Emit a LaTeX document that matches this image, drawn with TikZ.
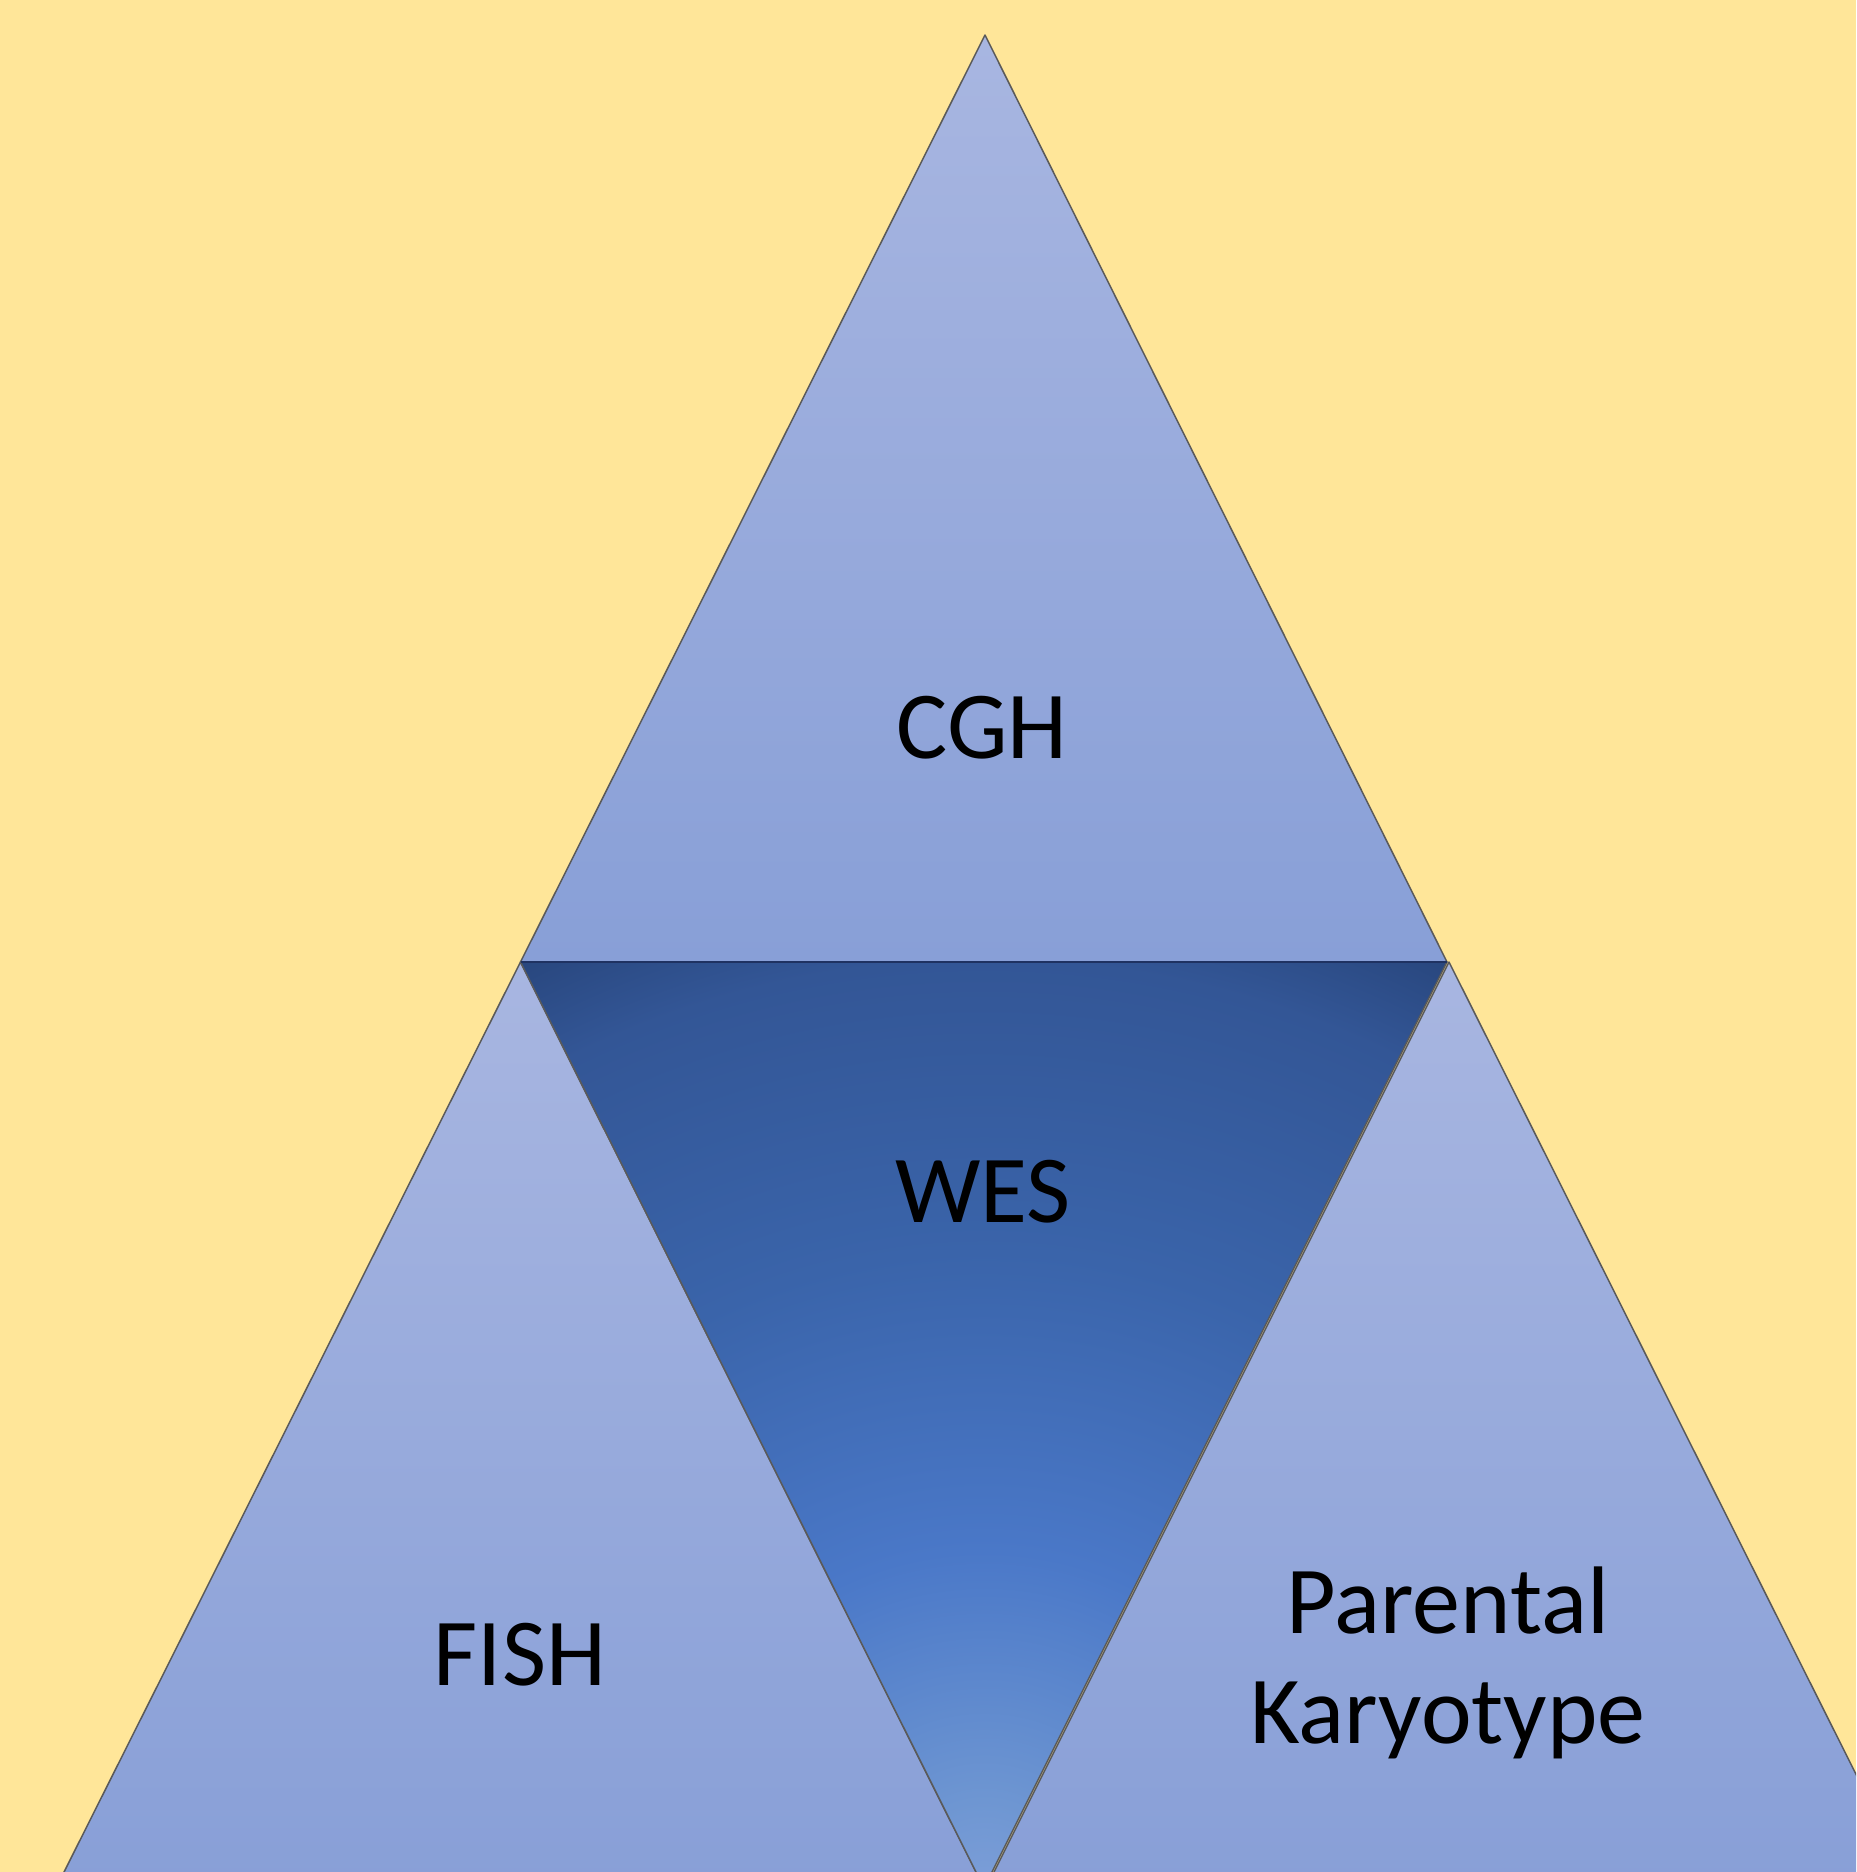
\documentclass[tikz,border=0pt]{standalone}
\usepackage{fontspec}
\setmainfont{Carlito}
\definecolor{bg}{HTML}{FFE699}
\definecolor{lighttop}{RGB}{168,182,225}
\definecolor{lightbot}{RGB}{136,159,215}
\definecolor{edge}{HTML}{5A5A5A}
\definecolor{wesA}{RGB}{124,158,216}
\definecolor{wesB}{RGB}{110,150,210}
\definecolor{wesC}{RGB}{74,120,200}
\definecolor{wesD}{RGB}{58,100,170}
\definecolor{wesE}{RGB}{51,86,150}
\definecolor{wesF}{RGB}{40,70,125}
\definecolor{wesline}{HTML}{1F3262}
\pgfdeclareradialshading{wesrad}{\pgfpoint{0bp}{0bp}}{color(0bp)=(wesA); color(2.1bp)=(wesB); color(8.1bp)=(wesC); color(15.3bp)=(wesD); color(22.3bp)=(wesE); color(25bp)=(wesF); color(50bp)=(wesF)}
\tikzset{
  lighttri/.style={top color=lighttop, bottom color=lightbot, draw=edge, line width=1.5pt, line join=round},
  tri/.style={draw=edge, line width=1.5pt, line join=round},
  lbl/.style={font=\fontsize{96}{110}\selectfont, text=black, inner sep=0pt, anchor=base}
}
\begin{document}
\begin{tikzpicture}[x=1pt,y=-1pt]
\useasboundingbox (0,0) rectangle (1856,1872);
\fill[bg] (0,0) rectangle (1856,1872);
\clip (0,0) rectangle (1856,1872);
\coordinate (top) at (985,35);
\coordinate (L) at (520.5,962);
\coordinate (R) at (1447,962);
\coordinate (Rp) at (1449,962);
\coordinate (BL) at (56,1888);
\coordinate (BM) at (984,1888);
\coordinate (BMp) at (986,1888);
\coordinate (BR) at (1913,1888);
% lower triangles
\path[lighttri] (L) -- (BL) -- (BM) -- cycle;
\path[lighttri] (Rp) -- (BMp) -- (BR) -- cycle;
% top triangle
\path[lighttri] (top) -- (L) -- (R) -- cycle;
% centre inverted triangle
\begin{scope}
  \clip (L) -- (R) -- (BM) -- cycle;
  \shade[shading=wesrad] (BM) circle (1040);
\end{scope}
\path[tri] (L) -- (R) -- (BM) -- cycle;
\draw[wesline, line width=2.5pt] (L) -- (R);
% labels
\node[lbl] (cgh) at (982,758) {CGH};
\node[lbl] (wes) at (983,1222) {WES};
\node[lbl] (fish) at (520,1685) {FISH};
\node[lbl] (par) at (1448,1633) {Parental};
\node[lbl] (kar) at (1448,1743) {Karyotype};
\end{tikzpicture}
\end{document}
